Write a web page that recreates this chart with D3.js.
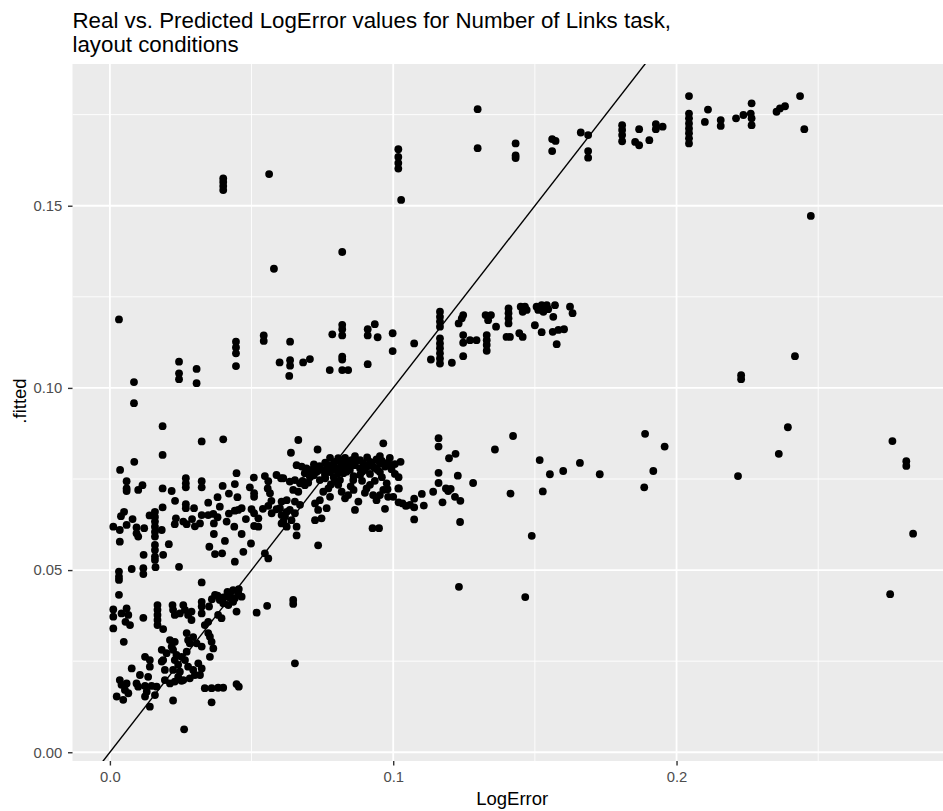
<!DOCTYPE html>
<html>
<head>
<meta charset="utf-8">
<script src="https://cdn.jsdelivr.net/npm/d3@7"></script>
<style>
  body { margin: 0; background: #ffffff; }
  text { font-family: "Liberation Sans", Arial, Helvetica, sans-serif; }
</style>
</head>
<body>
<svg id="chart" width="943" height="811"></svg>
<script>
// Observations as [LogError, .fitted] pairs, grouped by fitted-value band.
const topBand = [
  [0.1018,0.1655],[0.1018,0.1634],[0.1018,0.1617],[0.1018,0.1602],[0.1028,0.1516],
  [0.0400,0.1575],[0.0400,0.1565],[0.0400,0.1554],[0.0400,0.1543],
  [0.0562,0.1587],[0.0579,0.1327],[0.0820,0.1373],
  [0.1298,0.1765],[0.1298,0.1658],
  [0.1432,0.1671],[0.1432,0.1638],[0.1432,0.1631],
  [0.1561,0.1683],[0.1573,0.1678],[0.1561,0.1650],
  [0.1662,0.1701],[0.1688,0.1694],[0.1688,0.1650],[0.1688,0.1632],
  [0.1808,0.1721],[0.1808,0.1708],[0.1808,0.1694],[0.1808,0.1677],
  [0.1854,0.1675],[0.1868,0.1666],[0.1868,0.1710],[0.1904,0.1680],
  [0.1927,0.1724],[0.1927,0.1710],[0.1951,0.1717],
  [0.2044,0.1801],[0.2044,0.1753],[0.2044,0.1740],[0.2044,0.1726],[0.2044,0.1712],[0.2044,0.1699],[0.2044,0.1685],[0.2044,0.1671],
  [0.2111,0.1764],[0.2100,0.1730],[0.2156,0.1735],[0.2156,0.1719],
  [0.2210,0.1740],[0.2236,0.1749],[0.2262,0.1753],[0.2265,0.1740],[0.2265,0.1781],[0.2265,0.1721],
  [0.2353,0.1758],[0.2365,0.1767],[0.2383,0.1773],[0.2436,0.1801],[0.2451,0.1710],[0.2474,0.1472]
];

const upperBand = [
  [0.0032,0.1188],[0.0085,0.1016],[0.0085,0.0958],
  [0.0244,0.1072],[0.0244,0.1040],[0.0244,0.1024],[0.0306,0.1052],[0.0306,0.1013],
  [0.0445,0.1127],[0.0445,0.1111],[0.0445,0.1095],[0.0445,0.1060],
  [0.0543,0.1144],[0.0543,0.1129],[0.0636,0.1127],
  [0.0599,0.1070],[0.0636,0.1076],[0.0636,0.1061],[0.0633,0.1033],[0.0682,0.1070],[0.0706,0.1079],
  [0.0776,0.1049],[0.0785,0.1147],[0.0820,0.1173],[0.0820,0.1161],[0.0820,0.1144],
  [0.0820,0.1086],[0.0820,0.1078],[0.0820,0.1049],[0.0841,0.1049],
  [0.0910,0.1161],[0.0910,0.1144],[0.0935,0.1175],[0.0945,0.1139],[0.0910,0.1065],
  [0.0998,0.1150],[0.0998,0.1101],[0.1074,0.1122],[0.1133,0.1078],
  [0.1165,0.1209],[0.1165,0.1195],[0.1165,0.1182],[0.1165,0.1168],
  [0.1165,0.1136],[0.1165,0.1122],[0.1165,0.1109],[0.1165,0.1095],[0.1165,0.1081],[0.1165,0.1067],
  [0.1207,0.1069],[0.1231,0.1177],[0.1242,0.1191],[0.1247,0.1200],
  [0.1247,0.1145],[0.1247,0.1124],[0.1271,0.1131],[0.1294,0.1131],[0.1247,0.1087],
  [0.1326,0.1200],[0.1345,0.1200],[0.1335,0.1186],
  [0.1330,0.1145],[0.1330,0.1131],[0.1330,0.1118],[0.1330,0.1102],[0.1363,0.1168],
  [0.1407,0.1218],[0.1407,0.1205],[0.1407,0.1191],[0.1407,0.1177],[0.1400,0.1140],[0.1412,0.1140],
  [0.1445,0.1150],[0.1457,0.1140],[0.1450,0.1223],[0.1465,0.1223],[0.1457,0.1209],[0.1471,0.1214],
  [0.1500,0.1172],[0.1506,0.1223],[0.1524,0.1227],[0.1542,0.1227],[0.1512,0.1214],[0.1530,0.1209],[0.1547,0.1216],
  [0.1524,0.1153],[0.1571,0.1227],[0.1565,0.1195],[0.1563,0.1154],[0.1583,0.1159],[0.1603,0.1161],[0.1577,0.1120],
  [0.1624,0.1223],[0.1633,0.1205],
  [0.2228,0.1035],[0.2228,0.1024],[0.2418,0.1087]
];

const middleBand = [
  [0.0186,0.0895],[0.0186,0.0816],[0.0324,0.0853],[0.0400,0.0859],[0.0086,0.0797],[0.0036,0.0775],
  [0.0059,0.0744],[0.0059,0.0724],[0.0059,0.0717],[0.0100,0.0720],[0.0115,0.0733],[0.0186,0.0724],[0.0218,0.0717],
  [0.0268,0.0752],[0.0268,0.0738],[0.0268,0.0727],[0.0324,0.0744],[0.0324,0.0727],[0.0398,0.0731],[0.0447,0.0766],[0.0441,0.0736],
  [0.0508,0.0754],[0.0494,0.0727],[0.0509,0.0711],[0.0509,0.0701],[0.0547,0.0758],[0.0559,0.0744],[0.0557,0.0724],[0.0565,0.0711],[0.0588,0.0761],[0.0604,0.0752],
  [0.0186,0.0672],[0.0268,0.0681],[0.0268,0.0670],[0.0297,0.0670],[0.0324,0.0651],[0.0347,0.0685],[0.0388,0.0674],[0.0441,0.0663],
  [0.0465,0.0670],[0.0500,0.0667],[0.0524,0.0642],[0.0509,0.0656],[0.0559,0.0676],[0.0571,0.0656],[0.0588,0.0667],[0.0606,0.0651],[0.0624,0.0660],
  [0.0039,0.0648],[0.0012,0.0619],[0.0035,0.0610],[0.0059,0.0624],[0.0094,0.0617],[0.0121,0.0615],[0.0094,0.0601],[0.0100,0.0592],
  [0.0159,0.0660],[0.0159,0.0646],[0.0159,0.0633],[0.0159,0.0619],[0.0159,0.0605],[0.0159,0.0592],[0.0183,0.0610],
  [0.0233,0.0642],[0.0229,0.0626],[0.0259,0.0633],[0.0271,0.0626],[0.0318,0.0628],[0.0347,0.0651],[0.0365,0.0654],[0.0367,0.0628],[0.0367,0.0599],
  [0.0412,0.0633],[0.0439,0.0619],[0.0465,0.0599],[0.0453,0.0665],[0.0509,0.0621],[0.0524,0.0619],[0.0606,0.0688],[0.0606,0.0628],
  [0.0659,0.0595],[0.0735,0.0568],[0.0035,0.0578],
  [0.0290,0.0640],[0.0300,0.0620],[0.0380,0.0645],[0.0420,0.0655],[0.0480,0.0640],[0.0540,0.0668],[0.0570,0.0690],
  [0.0450,0.0700],[0.0420,0.0710],[0.0380,0.0700],[0.0230,0.0690],[0.0140,0.0650],[0.0080,0.0640],[0.0050,0.0660],
  [0.0665,0.0857],[0.0733,0.0831],[0.0639,0.0822],[0.0965,0.0848],[0.1026,0.0797],
  [0.0659,0.0788],[0.0677,0.0784],[0.0694,0.0779],[0.0712,0.0775],[0.0730,0.0770],[0.0747,0.0775],[0.0765,0.0779],[0.0777,0.0788],
  [0.0788,0.0775],[0.0806,0.0807],[0.0818,0.0793],[0.0830,0.0784],[0.0841,0.0797],[0.0853,0.0802],[0.0865,0.0788],[0.0883,0.0779],
  [0.0894,0.0793],[0.0908,0.0809],[0.0918,0.0797],[0.0929,0.0784],[0.0941,0.0804],[0.0953,0.0793],[0.0971,0.0784],[0.0982,0.0795],
  [0.0994,0.0777],[0.0806,0.0766],[0.0824,0.0766],[0.0847,0.0775],
  [0.0612,0.0752],[0.0635,0.0743],[0.0653,0.0747],[0.0671,0.0738],[0.0688,0.0733],[0.0647,0.0720],[0.0665,0.0715],[0.0624,0.0692],
  [0.0653,0.0688],[0.0671,0.0679],[0.0724,0.0683],[0.0741,0.0692],[0.0753,0.0715],[0.0771,0.0724],[0.0777,0.0701],[0.0794,0.0743],
  [0.0806,0.0734],[0.0818,0.0715],[0.0830,0.0697],[0.0841,0.0706],[0.0859,0.0747],[0.0877,0.0688],[0.0865,0.0665],[0.0906,0.0724],
  [0.0918,0.0734],[0.0929,0.0706],[0.0941,0.0692],[0.0953,0.0706],[0.0965,0.0720],[0.0977,0.0738],[0.0982,0.0701],[0.1000,0.0701],
  [0.1018,0.0724],[0.0971,0.0668],[0.0735,0.0665],[0.0747,0.0642],[0.0724,0.0637],[0.0765,0.0670],[0.0600,0.0670],[0.0618,0.0647],
  [0.0635,0.0665],[0.0653,0.0656],[0.0624,0.0619],[0.0659,0.0619],[0.0612,0.0633],[0.0641,0.0637],
  [0.0777,0.0808],[0.0794,0.0797],[0.0830,0.0808],[0.0865,0.0813],[0.0883,0.0802],[0.0900,0.0775],[0.0935,0.0780],[0.0953,0.0813],
  [0.0988,0.0808],[0.1006,0.0791],[0.0759,0.0761],[0.0777,0.0769],[0.0883,0.0761],[0.0918,0.0764],[0.0953,0.0769],[0.1006,0.0764],
  [0.0706,0.0755],[0.0741,0.0747],[0.0688,0.0766],[0.0812,0.0747],
  [0.0720,0.0790],[0.0740,0.0785],[0.0760,0.0795],[0.0790,0.0785],[0.0800,0.0780],[0.0815,0.0775],[0.0835,0.0770],[0.0850,0.0790],
  [0.0870,0.0800],[0.0890,0.0770],[0.0910,0.0785],[0.0925,0.0795],[0.0945,0.0775],[0.0960,0.0800],[0.0990,0.0788],[0.0860,0.0758],
  [0.0700,0.0765],[0.0720,0.0760],[0.0760,0.0752],[0.0790,0.0755],[0.0680,0.0745],[0.0700,0.0740],[0.0780,0.0735],[0.0850,0.0730],
  [0.0890,0.0745],[0.0935,0.0745],[0.0960,0.0755],[0.0980,0.0722],[0.0900,0.0712],[0.0860,0.0720],
  [0.1160,0.0862],[0.1160,0.0839],[0.1220,0.0819],[0.1197,0.0807],[0.1160,0.0767],[0.1228,0.0759],[0.1282,0.0739],[0.1160,0.0739],
  [0.1141,0.0715],[0.1186,0.0724],[0.1203,0.0723],[0.1194,0.0717],[0.1218,0.0701],[0.1237,0.0690],[0.1174,0.0686],[0.1236,0.0632],
  [0.1101,0.0709],[0.1108,0.0677],[0.1074,0.0696],[0.1074,0.0672],[0.1074,0.0639],[0.1045,0.0676],[0.1019,0.0686],[0.1033,0.0683],
  [0.1059,0.0679],[0.1019,0.0755],[0.1020,0.0724],[0.0927,0.0615],[0.0950,0.0615],
  [0.1359,0.0831],[0.1423,0.0868],[0.1414,0.0710],[0.1489,0.0594],[0.1466,0.0426],[0.1517,0.0802],[0.1553,0.0763],[0.1528,0.0716],
  [0.1600,0.0772],[0.1659,0.0794],[0.1729,0.0763],[0.1889,0.0874],[0.1958,0.0839],[0.1918,0.0772],[0.1886,0.0727],[0.2217,0.0758],
  [0.2361,0.0819],[0.2393,0.0892],[0.2762,0.0854],[0.2811,0.0799],[0.2811,0.0786],[0.2835,0.0600],[0.2754,0.0434],[0.1232,0.0454]
];

const lowerBand = [
  [0.0032,0.0496],[0.0032,0.0482],[0.0032,0.0473],[0.0077,0.0503],[0.0118,0.0505],[0.0118,0.0489],[0.0161,0.0508],
  [0.0159,0.0528],[0.0159,0.0569],[0.0159,0.0555],[0.0159,0.0537],[0.0188,0.0542],[0.0208,0.0571],[0.0119,0.0542],
  [0.0351,0.0564],[0.0371,0.0544],[0.0396,0.0546],[0.0406,0.0580],[0.0441,0.0523],[0.0471,0.0550],[0.0498,0.0573],
  [0.0547,0.0546],[0.0559,0.0532],[0.0244,0.0509],[0.0324,0.0466],
  [0.0032,0.0432],[0.0012,0.0392],[0.0012,0.0372],[0.0041,0.0381],[0.0059,0.0395],[0.0065,0.0377],[0.0055,0.0358],[0.0071,0.0349],
  [0.0012,0.0340],[0.0118,0.0369],
  [0.0168,0.0404],[0.0168,0.0391],[0.0168,0.0377],[0.0168,0.0363],[0.0168,0.0349],[0.0188,0.0338],
  [0.0221,0.0404],[0.0223,0.0391],[0.0229,0.0377],[0.0247,0.0381],[0.0259,0.0404],[0.0265,0.0391],[0.0276,0.0377],[0.0288,0.0363],
  [0.0324,0.0413],[0.0324,0.0400],[0.0324,0.0381],[0.0347,0.0358],[0.0335,0.0349],[0.0288,0.0386],
  [0.0371,0.0432],[0.0388,0.0418],[0.0400,0.0409],[0.0412,0.0427],[0.0424,0.0436],[0.0435,0.0445],[0.0441,0.0423],[0.0453,0.0436],
  [0.0465,0.0427],[0.0435,0.0413],[0.0418,0.0404],[0.0447,0.0386],[0.0394,0.0368],[0.0382,0.0377],
  [0.0400,0.0425],[0.0415,0.0440],[0.0430,0.0420],[0.0455,0.0448],[0.0380,0.0430],[0.0360,0.0420],[0.0350,0.0400],
  [0.0518,0.0383],[0.0555,0.0402],[0.0647,0.0407],[0.0647,0.0418],
  [0.0049,0.0303],[0.0212,0.0308],[0.0229,0.0303],[0.0218,0.0290],[0.0271,0.0327],[0.0276,0.0308],[0.0282,0.0299],[0.0294,0.0316],
  [0.0306,0.0299],[0.0324,0.0290],[0.0353,0.0317],[0.0359,0.0303],[0.0365,0.0285],[0.0347,0.0327],[0.0353,0.0262],
  [0.0183,0.0281],[0.0200,0.0272],[0.0188,0.0253],[0.0124,0.0262],[0.0141,0.0253],[0.0141,0.0235],[0.0194,0.0226],[0.0183,0.0249],
  [0.0223,0.0281],[0.0235,0.0267],[0.0229,0.0253],[0.0241,0.0240],[0.0223,0.0226],[0.0247,0.0221],[0.0265,0.0253],[0.0276,0.0235],
  [0.0294,0.0226],[0.0300,0.0212],[0.0282,0.0203],[0.0259,0.0198],[0.0241,0.0207],[0.0312,0.0244],[0.0324,0.0230],[0.0318,0.0212],
  [0.0271,0.0276],[0.0253,0.0262],
  [0.0077,0.0230],[0.0106,0.0212],[0.0135,0.0207],
  [0.0035,0.0198],[0.0041,0.0185],[0.0059,0.0189],[0.0053,0.0171],[0.0065,0.0162],[0.0024,0.0153],[0.0047,0.0144],
  [0.0094,0.0189],[0.0100,0.0180],[0.0124,0.0182],[0.0147,0.0182],[0.0165,0.0180],[0.0130,0.0166],[0.0124,0.0153],[0.0159,0.0157],
  [0.0141,0.0125],
  [0.0194,0.0198],[0.0212,0.0189],[0.0229,0.0194],[0.0253,0.0196],
  [0.0335,0.0176],[0.0359,0.0176],[0.0382,0.0177],[0.0400,0.0177],[0.0447,0.0187],[0.0455,0.0180],
  [0.0223,0.0142],[0.0359,0.0137],[0.0262,0.0063],[0.0653,0.0244]
];

const xTicks = [0, 0.1, 0.2];
const xMinor = [0.05, 0.15, 0.25];
const yTicks = [0, 0.05, 0.10, 0.15];
const yMinor = [0.025, 0.075, 0.125, 0.175];

const chartTitle = ["Real vs. Predicted LogError values for Number of Links task,", "layout conditions"];
const xLabel = "LogError";
const yLabel = ".fitted";

const points = [].concat(topBand, upperBand, middleBand, lowerBand);

// Layout: the plotting panel runs past the right edge of the page.
const width = 943, height = 811;
const panel = { left: 72.5, right: 952, top: 64, bottom: 761 };

const x = d3.scaleLinear().domain([-0.0132, 0.2937]).range([72.5, 942]);
const y = d3.scaleLinear().domain([-0.0024, 0.1889]).range([panel.bottom, panel.top]);

const svg = d3.select("#chart");

// Panel background
svg.append("rect")
  .attr("x", panel.left).attr("y", panel.top)
  .attr("width", panel.right - panel.left).attr("height", panel.bottom - panel.top)
  .attr("fill", "#EBEBEB");

svg.append("clipPath").attr("id", "panel-clip")
  .append("rect")
  .attr("x", panel.left).attr("y", panel.top)
  .attr("width", panel.right - panel.left).attr("height", panel.bottom - panel.top);

const grid = svg.append("g").attr("clip-path", "url(#panel-clip)");

// Minor grid
grid.selectAll(".xminor").data(xMinor).join("line")
  .attr("x1", d => x(d)).attr("x2", d => x(d))
  .attr("y1", panel.top).attr("y2", panel.bottom)
  .attr("stroke", "#ffffff").attr("stroke-width", 0.9);
grid.selectAll(".yminor").data(yMinor).join("line")
  .attr("y1", d => y(d)).attr("y2", d => y(d))
  .attr("x1", panel.left).attr("x2", panel.right)
  .attr("stroke", "#ffffff").attr("stroke-width", 0.9);

// Major grid
grid.selectAll(".xmajor").data(xTicks).join("line")
  .attr("x1", d => x(d)).attr("x2", d => x(d))
  .attr("y1", panel.top).attr("y2", panel.bottom)
  .attr("stroke", "#ffffff").attr("stroke-width", 1.8);
grid.selectAll(".ymajor").data(yTicks).join("line")
  .attr("y1", d => y(d)).attr("y2", d => y(d))
  .attr("x1", panel.left).attr("x2", panel.right)
  .attr("stroke", "#ffffff").attr("stroke-width", 1.8);

// Points
const plot = svg.append("g").attr("clip-path", "url(#panel-clip)");
plot.selectAll("circle").data(points).join("circle")
  .attr("cx", d => x(d[0]))
  .attr("cy", d => y(d[1]))
  .attr("r", 3.9)
  .attr("fill", "#000000");

// Identity reference line (fitted = LogError)
const lineDomain = x.domain();
plot.append("line")
  .attr("x1", x(lineDomain[0])).attr("y1", y(lineDomain[0]))
  .attr("x2", x(lineDomain[1])).attr("y2", y(lineDomain[1]))
  .attr("stroke", "#000000").attr("stroke-width", 1.4);

// Axes
const xAxis = svg.append("g")
  .attr("transform", `translate(0,${panel.bottom})`)
  .call(d3.axisBottom(x).tickValues(xTicks).tickFormat(d3.format(".1f")).tickSize(4.5).tickPadding(6));
const yAxis = svg.append("g")
  .attr("transform", `translate(${panel.left},0)`)
  .call(d3.axisLeft(y).tickValues(yTicks).tickFormat(d3.format(".2f")).tickSize(4.5).tickPadding(5.7));

[xAxis, yAxis].forEach(g => {
  g.select(".domain").remove();
  g.selectAll(".tick line").attr("stroke", "#333333").attr("stroke-width", 1.4);
  g.selectAll(".tick text")
    .attr("fill", "#4D4D4D")
    .style("font-size", "14.8px")
    .style("font-family", "'Liberation Sans', Arial, Helvetica, sans-serif");
});

// Axis titles
svg.append("text")
  .attr("x", (panel.left + panel.right) / 2).attr("y", 805)
  .attr("text-anchor", "middle")
  .style("font-size", "18.5px")
  .attr("fill", "#000000")
  .text(xLabel);

svg.append("text")
  .attr("transform", `translate(26,401) rotate(-90)`)
  .attr("text-anchor", "middle")
  .style("font-size", "18.5px")
  .attr("fill", "#000000")
  .text(yLabel);

// Title
svg.append("text")
  .attr("x", panel.left).attr("y", 28)
  .style("font-size", "22.3px")
  .attr("fill", "#000000")
  .text(chartTitle[0]);
svg.append("text")
  .attr("x", panel.left).attr("y", 52)
  .style("font-size", "22.3px")
  .attr("fill", "#000000")
  .text(chartTitle[1]);
</script>
</body>
</html>
